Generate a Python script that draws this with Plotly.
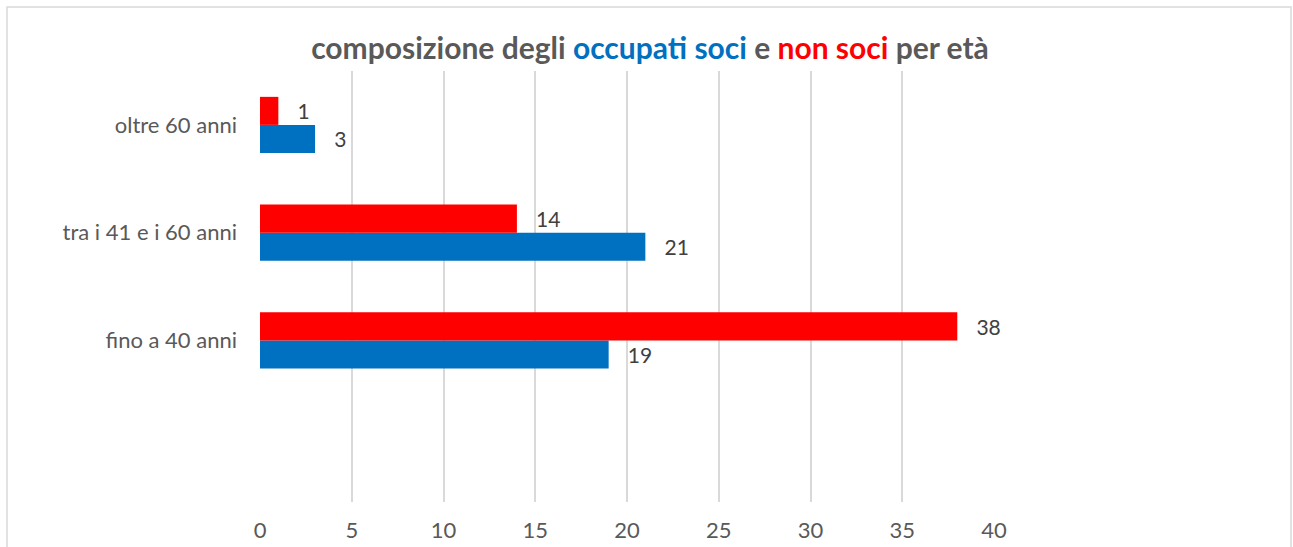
import plotly.graph_objects as go

categories = ["fino a 40 anni", "tra i 41 e i 60 anni", "oltre 60 anni"]
axis_categories = [" "] + categories
soci = [19, 21, 3]
non_soci = [38, 14, 1]
x_ticks = [0, 5, 10, 15, 20, 25, 30, 35, 40]

BLUE = "#0070C0"
RED = "#FF0000"
FONT = "Lato"

fig = go.Figure()
fig.add_trace(go.Bar(
    y=categories, x=soci, orientation="h", name="occupati soci",
    marker=dict(color=BLUE, line=dict(width=0)),
    text=soci, texttemplate="   %{x}", textposition="outside",
    textfont=dict(family=FONT, size=21, color="#404040"), cliponaxis=False,
))
fig.add_trace(go.Bar(
    y=categories, x=non_soci, orientation="h", name="non soci",
    marker=dict(color=RED, line=dict(width=0)),
    text=non_soci, texttemplate="   %{x}", textposition="outside",
    textfont=dict(family=FONT, size=21, color="#404040"), cliponaxis=False,
))

W, H = 1293, 547
L, R, T, B = 260, 299, 71, 45
pw = W - L - R
ph = H - T - B

fig.update_layout(
    width=W, height=H,
    margin=dict(l=L, r=R, t=T, b=B, autoexpand=False),
    paper_bgcolor="white", plot_bgcolor="white",
    barmode="group", bargap=0.48, bargroupgap=0,
    showlegend=False,
    font=dict(family=FONT, size=22, color="#595959"),
    title=dict(
        text="<b>composizione degli <span style='color:#0070C0'>occupati soci</span> e "
             "<span style='color:#FF0000'>non soci</span> per età</b>",
        x=650 / W, xref="container", xanchor="center", y=1 - 48 / H, yanchor="middle",
        font=dict(family=FONT, size=30, color="#595959"),
    ),
    xaxis=dict(
        range=[0, 40], tickvals=x_ticks, showgrid=True, gridcolor="#D9D9D9", gridwidth=1.5,
        zeroline=False, showline=False, ticks="", ticklabelstandoff=13, automargin=False,
        tickfont=dict(family=FONT, size=22, color="#595959"),
    ),
    yaxis=dict(
        type="category", categoryorder="array", categoryarray=axis_categories,
        range=[-0.5, 3.5], showgrid=False, zeroline=False, showline=False, ticks="",
        ticklabelstandoff=22, automargin=False, tickfont=dict(family=FONT, size=22, color="#595959"),
    ),
    shapes=[dict(
        type="rect", xref="paper", yref="paper",
        x0=(7 - L) / pw, x1=(1291 - L) / pw,
        y0=-(B + 100) / ph, y1=(H - 7 - B) / ph,
        line=dict(color="#D9D9D9", width=1.5), fillcolor="rgba(0,0,0,0)", layer="below",
    )],
)

# remove the default 8px page margin so the figure fills the 1293x547 viewport exactly
fig.write_html(
    "out.html",
    config={"displayModeBar": False},
    post_script="document.body.style.margin='0';document.body.style.overflow='hidden';",
)
